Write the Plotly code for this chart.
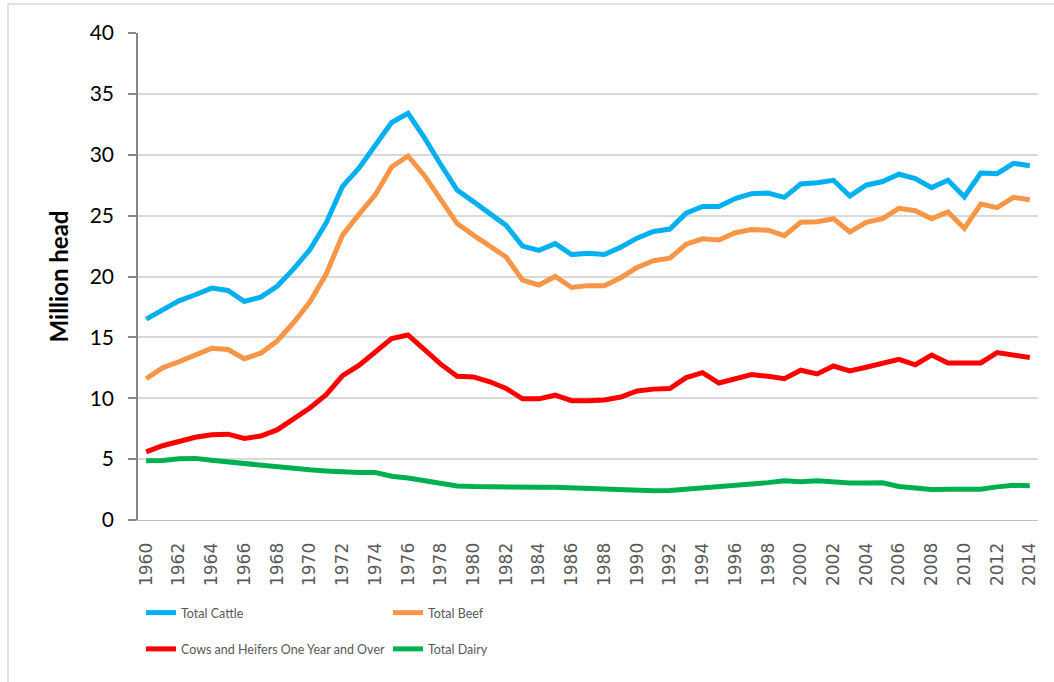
import plotly.graph_objects as go

# Cattle inventory by year, million head
years = list(range(1960, 2015))

total_cattle = [
    16.5, 17.3, 18.0, 18.5, 19.05, 18.85, 17.95, 18.3, 19.2, 20.6,
    22.2, 24.4, 27.4, 28.9, 30.7, 32.65, 33.4, 31.4, 29.2, 27.1,
    26.15, 25.2, 24.2, 22.5, 22.15, 22.7, 21.8, 21.9, 21.8, 22.4,
    23.15, 23.7, 23.9, 25.2, 25.75, 25.75, 26.4, 26.8, 26.85, 26.5,
    27.6, 27.7, 27.9, 26.6, 27.5, 27.8, 28.4, 28.05, 27.3, 27.9,
    26.55, 28.5, 28.45, 29.3, 29.1,
]

total_beef = [
    11.6, 12.5, 13.0, 13.6, 14.1, 14.0, 13.25, 13.7, 14.7, 16.2,
    17.9, 20.2, 23.4, 25.1, 26.7, 29.0, 29.9, 28.3, 26.3, 24.35,
    23.4, 22.5, 21.6, 19.7, 19.3, 20.0, 19.1, 19.25, 19.25, 19.9,
    20.75, 21.3, 21.5, 22.65, 23.1, 23.0, 23.6, 23.85, 23.8, 23.35,
    24.45, 24.5, 24.75, 23.65, 24.45, 24.75, 25.6, 25.4, 24.75, 25.3,
    23.95, 25.95, 25.65, 26.5, 26.3,
]

cows_heifers = [
    5.6, 6.1, 6.45, 6.8, 7.0, 7.05, 6.7, 6.9, 7.4, 8.3,
    9.2, 10.3, 11.85, 12.7, 13.85, 14.9, 15.2, 14.0, 12.8, 11.8,
    11.75, 11.35, 10.8, 9.95, 9.95, 10.25, 9.8, 9.8, 9.85, 10.1,
    10.6, 10.75, 10.8, 11.7, 12.1, 11.25, 11.65, 11.95, 11.8, 11.6,
    12.3, 12.0, 12.65, 12.25, 12.55, 12.9, 13.2, 12.75, 13.55, 12.9,
    12.95, 12.9, 13.75, 13.5, 13.35,
]

total_dairy = [
    4.87, 4.88, 5.03, 5.06, 4.9, 4.76, 4.6, 4.54, 4.38, 4.22,
    4.12, 4.03, 3.95, 3.9, 3.9, 3.6, 3.45, 3.2, 2.95, 2.8,
    2.75, 2.72, 2.68, 2.62, 2.68, 2.68, 2.62, 2.55, 2.5, 2.47,
    2.45, 2.4, 2.42, 2.52, 2.68, 2.74, 2.8, 2.93, 3.07, 3.23,
    3.15, 3.22, 3.12, 3.04, 3.04, 3.05, 2.75, 2.58, 2.5, 2.53,
    2.5, 2.53, 2.72, 2.85, 2.82,
]

x_ticks = list(range(1960, 2015, 2))
y_ticks = list(range(0, 41, 5))

series = [
    ("Total Cattle", total_cattle, "#00B0F0", "legend"),
    ("Total Beef", total_beef, "#F79646", "legend2"),
    ("Cows and Heifers One Year and Over", cows_heifers, "#FF0000", "legend"),
    ("Total Dairy", total_dairy, "#00B050", "legend2"),
]

fig = go.Figure()
for name, vals, color, leg in series:
    fig.add_trace(go.Scatter(
        x=years, y=vals, name=name, mode="lines",
        line=dict(color=color, width=5),
        legend=leg, legendgroup=name,
    ))

W, H = 1054, 682
ml, mr, mt, mb = 138, 16, 33, 162
pw, ph = W - ml - mr, H - mt - mb

def px_x(p):
    return (p - ml) / pw

def px_y(p):
    return (H - mb - p) / ph

legend_font = dict(family="Lato, sans-serif", size=12.5, color="#595959")

fig.update_layout(
    width=W, height=H,
    margin=dict(l=ml, r=mr, t=mt, b=mb),
    paper_bgcolor="white", plot_bgcolor="white",
    font=dict(family="Lato, sans-serif", color="#000000"),
    xaxis=dict(
        range=[1959.5, 2014.5],
        tickmode="array", tickvals=x_ticks, ticktext=[str(v) for v in x_ticks],
        tickangle=-90,
        tickfont=dict(family="DejaVu Sans, sans-serif", size=17, color="#595959"),
        showgrid=False, zeroline=False,
        showline=True, linecolor="#BFBFBF", linewidth=1,
        ticks="", ticklabelstandoff=15,
    ),
    yaxis=dict(
        range=[0, 40],
        tickmode="array", tickvals=y_ticks,
        tickfont=dict(family="Lato, sans-serif", size=21, color="#000000"),
        showgrid=True, gridcolor="#D9D9D9", gridwidth=1.5,
        zeroline=False,
        showline=True, linecolor="#868686", linewidth=1.5,
        ticks="outside", ticklen=8, tickcolor="#868686", tickwidth=1.5,
        ticklabelstandoff=10,
        title=dict(text="<b>Million head</b>", font=dict(family="Lato, sans-serif", size=24, color="#000000"), standoff=14),
    ),
    legend=dict(
        x=px_x(141), xanchor="left", y=px_y(598), yanchor="top",
        orientation="v", font=legend_font, itemwidth=30,
        traceorder="grouped", tracegroupgap=17,
        bgcolor="rgba(0,0,0,0)",
    ),
    legend2=dict(
        x=px_x(388), xanchor="left", y=px_y(598), yanchor="top",
        orientation="v", font=legend_font, itemwidth=30,
        traceorder="grouped", tracegroupgap=17,
        bgcolor="rgba(0,0,0,0)",
    ),
    shapes=[
        dict(type="rect", xref="paper", yref="paper",
             x0=px_x(8), x1=px_x(W + 20), y0=px_y(H + 20), y1=px_y(4),
             line=dict(color="#D9D9D9", width=1.5), fillcolor="rgba(0,0,0,0)",
             layer="below"),
    ],
)

fig.write_html("out.html")
